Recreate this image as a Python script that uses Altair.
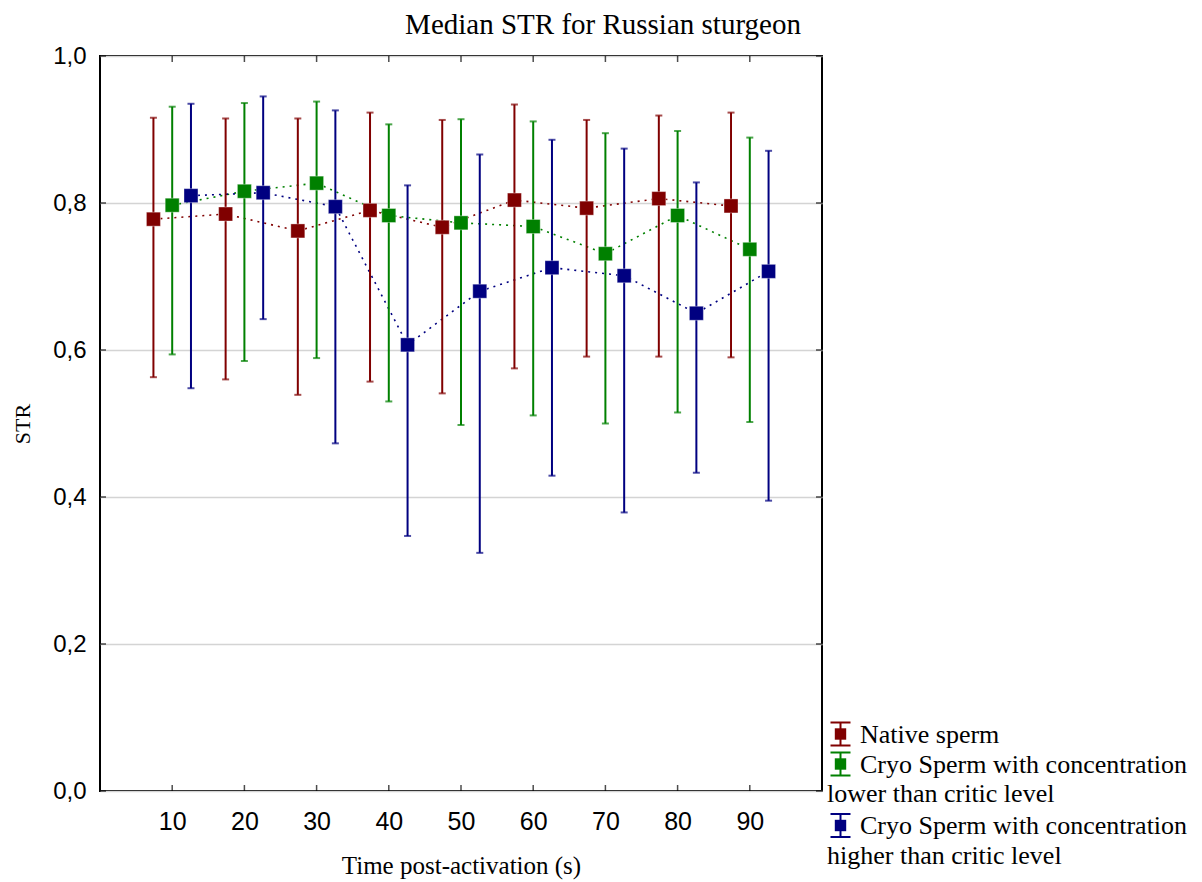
import altair as alt
import pandas as pd

# ---------------- data ----------------
times = [10, 20, 30, 40, 50, 60, 70, 80, 90]
tick_values_x = [10, 20, 30, 40, 50, 60, 70, 80, 90]
tick_values_y = [0.0, 0.2, 0.4, 0.6, 0.8, 1.0]

chart_title = "Median STR for Russian sturgeon"

series_names = ["Native sperm",
                "Cryo Sperm with concentration lower than critic level",
                "Cryo Sperm with concentration higher than critic level"]

native_med = [0.778, 0.785, 0.762, 0.790, 0.767, 0.804, 0.793, 0.806, 0.796]
native_hi = [0.916, 0.915, 0.915, 0.923, 0.913, 0.934, 0.913, 0.919, 0.923]
native_lo = [0.563, 0.560, 0.539, 0.557, 0.541, 0.575, 0.591, 0.591, 0.590]

low_med = [0.797, 0.816, 0.827, 0.783, 0.773, 0.768, 0.731, 0.783, 0.737]
low_hi = [0.931, 0.936, 0.938, 0.907, 0.914, 0.911, 0.895, 0.898, 0.889]
low_lo = [0.594, 0.585, 0.589, 0.530, 0.498, 0.511, 0.500, 0.515, 0.502]

high_med = [0.810, 0.814, 0.795, 0.607, 0.680, 0.712, 0.701, 0.650, 0.707]
high_hi = [0.935, 0.945, 0.926, 0.824, 0.866, 0.886, 0.874, 0.828, 0.871]
high_lo = [0.548, 0.642, 0.473, 0.347, 0.324, 0.429, 0.379, 0.433, 0.395]

legend_lines = [["Native sperm"],
                ["Cryo Sperm with concentration", "lower than critic level"],
                ["Cryo Sperm with concentration", "higher than critic level"]]

colors = ["#800000", "#008000", "#000080"]

# ---------------- build table ----------------
offsets = [-2.6, 0.0, 2.6]   # horizontal dodge of the three series (style)
meds = [native_med, low_med, high_med]
his = [native_hi, low_hi, high_hi]
los = [native_lo, low_lo, high_lo]

rows = []
for s, name in enumerate(series_names):
    for i, t in enumerate(times):
        rows.append({"series": name, "order": s, "t": t, "x": t + offsets[s],
                     "med": meds[s][i], "hi": his[s][i], "lo": los[s][i]})
df = pd.DataFrame(rows)

W, H = 722, 735
SERIF = "Liberation Serif"
SANS = "Liberation Sans"

xscale = alt.Scale(domain=[0, 100], nice=False, zero=False)
yscale = alt.Scale(domain=[0, 1], nice=False, zero=False)
cscale = alt.Scale(domain=series_names, range=colors)

xaxis = alt.Axis(values=tick_values_x, ticks=False, domain=False, grid=False,
                 labelFont=SANS, labelFontSize=25, labelColor="black", labelPadding=18,
                 title="Time post-activation (s)", titleFont=SERIF, titleFontSize=25,
                 titleFontWeight="normal", titleColor="black", titlePadding=19)
yaxis = alt.Axis(values=tick_values_y, ticks=False, domain=False, grid=True,
                 gridColor="#d4d4d4", gridWidth=1.5,
                 labelExpr="replace(format(datum.value, '.1f'), '.', ',')",
                 labelFont=SANS, labelFontSize=24, labelColor="black", labelPadding=14,
                 title="STR", titleFont=SERIF, titleFontSize=22, titleFontWeight="normal",
                 titleColor="black", titlePadding=18)

base = alt.Chart(df)

lines = base.mark_line(strokeDash=[2, 5], strokeWidth=1.6).encode(
    x=alt.X("x:Q", scale=xscale, axis=xaxis),
    y=alt.Y("med:Q", scale=yscale, axis=yaxis),
    color=alt.Color("series:N", scale=cscale, legend=None),
    detail="series:N",
    order="x:Q",
)

bars = base.mark_rule(strokeWidth=2).encode(
    x="x:Q", y="lo:Q", y2="hi:Q",
    color=alt.Color("series:N", scale=cscale, legend=None),
)
cap_hi = base.mark_tick(orient="horizontal", size=7, thickness=2).encode(
    x="x:Q", y="hi:Q", color=alt.Color("series:N", scale=cscale, legend=None))
cap_lo = base.mark_tick(orient="horizontal", size=7, thickness=2).encode(
    x="x:Q", y="lo:Q", color=alt.Color("series:N", scale=cscale, legend=None))

squares = base.mark_square(size=196, opacity=1, filled=True,
                           stroke="white", strokeWidth=0.6, strokeOpacity=0.6).encode(
    x="x:Q", y="med:Q", color=alt.Color("series:N", scale=cscale, legend=None))

# inside tick marks on all four sides of the frame
ytick_df = pd.DataFrame({"v": tick_values_y})
xtick_df = pd.DataFrame({"v": tick_values_x})
yticks_left = alt.Chart(ytick_df).mark_tick(orient="horizontal", size=6, thickness=1.5,
                                            color="black").encode(
    y=alt.Y("v:Q"), x=alt.value(3))
yticks_right = alt.Chart(ytick_df).mark_tick(orient="horizontal", size=6, thickness=1.5,
                                             color="black").encode(
    y=alt.Y("v:Q"), x=alt.value(W - 3))
xticks_bottom = alt.Chart(xtick_df).mark_tick(orient="vertical", size=6, thickness=1.5,
                                              color="black").encode(
    x=alt.X("v:Q"), y=alt.value(H - 3))
xticks_top = alt.Chart(xtick_df).mark_tick(orient="vertical", size=6, thickness=1.5,
                                           color="black").encode(
    x=alt.X("v:Q"), y=alt.value(3))

layers = [lines, bars, cap_hi, cap_lo, squares,
          yticks_left, yticks_right, xticks_bottom, xticks_top]

# title as a text layer, centred on the whole figure
title_df = pd.DataFrame({"label": [chart_title]})
layers.append(alt.Chart(title_df).mark_text(font=SERIF, fontSize=29, align="center",
                                            baseline="alphabetic", color="black").encode(
    x=alt.value(503), y=alt.value(-22), text="label:N"))

# ---------------- manual legend (outside the plot, lower right) ----------------
sym_cx = 740.5
text_x = 760
wrap_x = 727
sym_cy = [678, 708, 769.5]
first_base = [686.5, 716.5, 777.5]
second_base = [None, 745.5, 807.5]
for k in range(3):
    col = colors[k]
    one = pd.DataFrame({"a": [0]})
    layers.append(alt.Chart(one).mark_rule(strokeWidth=2, color=col).encode(
        x=alt.value(sym_cx), y=alt.value(sym_cy[k] - 11.5), y2=alt.value(sym_cy[k] + 11.5)))
    layers.append(alt.Chart(one).mark_rule(strokeWidth=2, color=col).encode(
        x=alt.value(sym_cx - 10), x2=alt.value(sym_cx + 10), y=alt.value(sym_cy[k] - 11.5)))
    layers.append(alt.Chart(one).mark_rule(strokeWidth=2, color=col).encode(
        x=alt.value(sym_cx - 10), x2=alt.value(sym_cx + 10), y=alt.value(sym_cy[k] + 11.5)))
    layers.append(alt.Chart(one).mark_square(size=130, opacity=1, filled=True, color=col).encode(
        x=alt.value(sym_cx), y=alt.value(sym_cy[k])))
    t1 = pd.DataFrame({"label": [legend_lines[k][0]]})
    layers.append(alt.Chart(t1).mark_text(font=SERIF, fontSize=26, align="left",
                                          baseline="alphabetic", color="black").encode(
        x=alt.value(text_x), y=alt.value(first_base[k]), text="label:N"))
    if len(legend_lines[k]) > 1:
        t2 = pd.DataFrame({"label": [legend_lines[k][1]]})
        layers.append(alt.Chart(t2).mark_text(font=SERIF, fontSize=26, align="left",
                                              baseline="alphabetic", color="black").encode(
            x=alt.value(wrap_x), y=alt.value(second_base[k]), text="label:N"))

chart = alt.layer(*layers).properties(
    width=W, height=H,
    padding={"left": 92, "top": 48, "right": 372, "bottom": 91},
    autosize=alt.AutoSizeParams(type="none"),
).configure(
    background="white",
    view=alt.ViewConfig(stroke="black", strokeWidth=2),
)

chart.save("out.html", embed_options={"renderer": "svg", "actions": False})
